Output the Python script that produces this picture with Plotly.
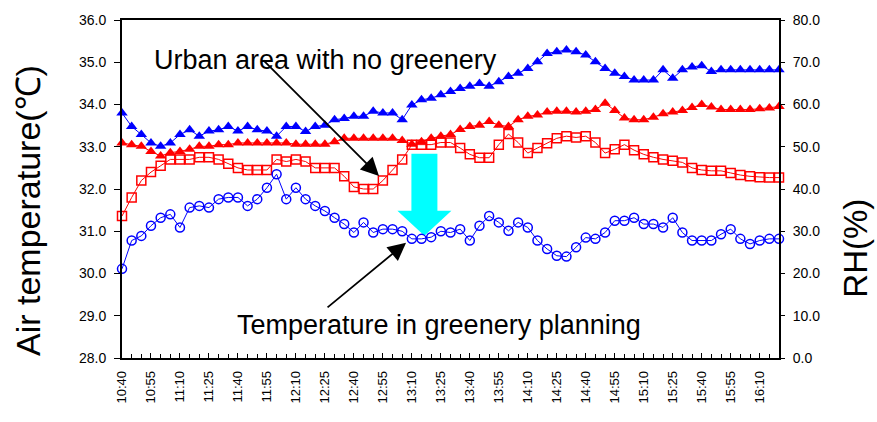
import pandas as pd
import plotly.graph_objects as go

# Sampling times: every 5 minutes from 10:40 to 16:20
times = pd.date_range("2000-01-01 10:40", "2000-01-01 16:20", freq="5min")

# Air temperature (°C) in the urban area without greenery
temp_urban = [31.36, 31.8, 32.2, 32.4, 32.55, 32.7, 32.7, 32.7, 32.75, 32.75,
              32.7, 32.6, 32.5, 32.45, 32.45, 32.45, 32.7, 32.65, 32.7, 32.65,
              32.5, 32.5, 32.5, 32.3, 32.05, 32.0, 32.0, 32.2, 32.45, 32.7,
              33.05, 33.05, 33.05, 33.1, 33.1, 32.97, 32.82, 32.74, 32.74, 33.05,
              33.3, 33.1, 32.85, 32.97, 33.08, 33.2, 33.25, 33.22, 33.25, 33.1,
              32.85, 32.94, 33.05, 32.92, 32.82, 32.75, 32.7, 32.67, 32.63, 32.5,
              32.45, 32.43, 32.43, 32.38, 32.33, 32.3, 32.28, 32.27, 32.27]

# Air temperature (°C) with greenery planning
temp_green = [30.11, 30.78, 30.89, 31.13, 31.32, 31.4, 31.09, 31.56, 31.6, 31.56,
              31.76, 31.8, 31.8, 31.6, 31.76, 32.03, 32.35, 31.76, 32.03, 31.76,
              31.6, 31.48, 31.32, 31.17, 30.97, 31.21, 30.97, 31.05, 31.05, 31.0,
              30.82, 30.82, 30.86, 31.0, 30.97, 31.05, 30.78, 31.13, 31.36, 31.21,
              31.01, 31.21, 31.09, 30.78, 30.58, 30.42, 30.4, 30.62, 30.85, 30.82,
              30.97, 31.25, 31.25, 31.32, 31.17, 31.17, 31.09, 31.32, 30.97, 30.78,
              30.78, 30.78, 30.93, 31.05, 30.82, 30.7, 30.78, 30.82, 30.82]

# Relative humidity (%) with greenery planning
rh_green = [58.0, 54.8, 52.9, 50.9, 50.1, 50.9, 52.9, 54.0, 52.5, 53.7,
            54.0, 54.8, 53.7, 54.8, 54.0, 53.7, 52.5, 54.8, 54.8, 53.6,
            54.8, 55.1, 56.4, 56.7, 57.2, 57.2, 58.4, 58.0, 58.0, 56.4,
            59.9, 61.1, 61.5, 62.3, 63.1, 63.8, 64.3, 65.0, 64.3, 65.4,
            66.6, 67.4, 68.5, 70.1, 72.1, 72.5, 72.9, 72.5, 71.7, 70.1,
            68.5, 67.4, 66.6, 65.8, 65.8, 65.8, 68.2, 66.2, 68.2, 68.9,
            69.2, 67.8, 68.2, 68.2, 68.2, 68.2, 68.2, 68.2, 68.2]

# Relative humidity (%) in the urban area without greenery
rh_urban = [50.9, 50.5, 50.1, 48.9, 47.8, 48.6, 48.9, 49.4, 50.1, 50.1,
            50.5, 50.5, 50.9, 50.9, 50.9, 50.9, 50.9, 50.9, 50.6, 50.6,
            50.6, 50.6, 51.2, 52.0, 52.0, 52.0, 52.0, 52.0, 52.0, 51.5,
            50.6, 51.2, 52.0, 52.5, 52.9, 54.1, 54.8, 55.1, 56.0, 55.1,
            54.8, 56.4, 57.2, 57.5, 58.2, 58.4, 58.4, 58.2, 58.4, 58.8,
            60.3, 58.6, 56.8, 56.4, 56.4, 57.0, 57.8, 58.2, 58.6, 59.3,
            60.0, 59.4, 58.8, 58.8, 58.8, 58.8, 59.0, 59.2, 59.5]

BLUE = "#0000FF"
RED = "#FF0000"
FONT = "Arial, Liberation Sans, sans-serif"

fig = go.Figure()

fig.add_trace(go.Scatter(
    x=times, y=rh_urban, yaxis="y2", mode="lines+markers",
    line=dict(color=RED, width=1),
    marker=dict(symbol="triangle-up", size=10, color=RED),
    cliponaxis=False, showlegend=False))

fig.add_trace(go.Scatter(
    x=times, y=rh_green, yaxis="y2", mode="lines+markers",
    line=dict(color=BLUE, width=1),
    marker=dict(symbol="triangle-up", size=10, color=BLUE),
    cliponaxis=False, showlegend=False))

fig.add_trace(go.Scatter(
    x=times, y=temp_urban, mode="lines+markers",
    line=dict(color=RED, width=1),
    marker=dict(symbol="square-open", size=9, color=RED, line=dict(width=1.5)),
    cliponaxis=False, showlegend=False))

fig.add_trace(go.Scatter(
    x=times, y=temp_green, mode="lines+markers",
    line=dict(color=BLUE, width=1),
    marker=dict(symbol="circle-open", size=9, color=BLUE, line=dict(width=1.5)),
    cliponaxis=False, showlegend=False))

# Cyan arrow showing the temperature drop from the greenery planning
fig.add_shape(
    type="path", xref="x", yref="y", layer="below",
    xsizemode="pixel", ysizemode="pixel",
    xanchor="2000-01-01 13:16:30", yanchor=33.0,
    path="M -13,-7 L 13,-7 L 13,-64 L 27,-64 L 0,-89 L -27,-64 L -13,-64 Z",
    fillcolor="#00FFFF", line=dict(width=0))

fig.add_annotation(
    x="2000-01-01 12:53", y=32.31, ax=-117, ay=-117,
    showarrow=True, arrowhead=2, arrowsize=2, arrowwidth=1.8, arrowcolor="black",
    text="")
fig.add_annotation(
    x="2000-01-01 13:07", y=30.73, ax=-80, ay=66,
    showarrow=True, arrowhead=2, arrowsize=2, arrowwidth=1.8, arrowcolor="black",
    text="")

fig.add_annotation(
    xref="paper", yref="paper", x=0.309, y=0.882, showarrow=False,
    text="Urban area with no greenery", font=dict(family=FONT, size=27, color="black"),
    xanchor="center", yanchor="middle")
fig.add_annotation(
    xref="paper", yref="paper", x=0.4825, y=0.097, showarrow=False,
    text="Temperature in greenery planning", font=dict(family=FONT, size=27, color="black"),
    xanchor="center", yanchor="middle")

# Axis titles
fig.add_annotation(
    xref="paper", yref="paper", x=-0.143, y=0.435, showarrow=False, textangle=-90,
    text="Air temperature(℃)", font=dict(family=FONT, size=34, color="black"),
    xanchor="center", yanchor="middle")
fig.add_annotation(
    xref="paper", yref="paper", x=1.116, y=0.324, showarrow=False, textangle=-90,
    text="RH(%)", font=dict(family=FONT, size=33, color="black"),
    xanchor="center", yanchor="middle")

tickfont = dict(family=FONT, size=14, color="black")

fig.update_layout(
    width=877, height=422,
    margin=dict(l=122, r=98, t=18, b=64),
    paper_bgcolor="white", plot_bgcolor="white",
    font=dict(family=FONT, color="black"),
    xaxis=dict(
        type="date", range=["2000-01-01 10:40", "2000-01-01 16:20"],
        tick0="2000-01-01 10:40", dtick=15 * 60 * 1000, tickformat="%H:%M",
        tickangle=-90, tickfont=dict(family=FONT, size=13, color="black"),
        ticks="inside", ticklen=5, tickcolor="black", ticklabelstandoff=6,
        minor=dict(dtick=5 * 60 * 1000, ticks="inside", ticklen=4, tickcolor="black"),
        showgrid=False, showline=True, linecolor="black", linewidth=1.5, mirror=True,
        zeroline=False),
    yaxis=dict(
        range=[28, 36], dtick=1, tickformat=".1f", tickfont=tickfont,
        ticks="outside", ticklen=6, tickcolor="black", ticklabelstandoff=5,
        showgrid=False, showline=True, linecolor="black", linewidth=2, zeroline=False),
    yaxis2=dict(
        range=[0, 80], dtick=10, tickformat=".1f", tickfont=tickfont,
        overlaying="y", side="right",
        ticks="outside", ticklen=4, tickcolor="black", ticklabelstandoff=5,
        showgrid=False, showline=True, linecolor="black", linewidth=2, zeroline=False),
)

fig.write_html("out.html")
